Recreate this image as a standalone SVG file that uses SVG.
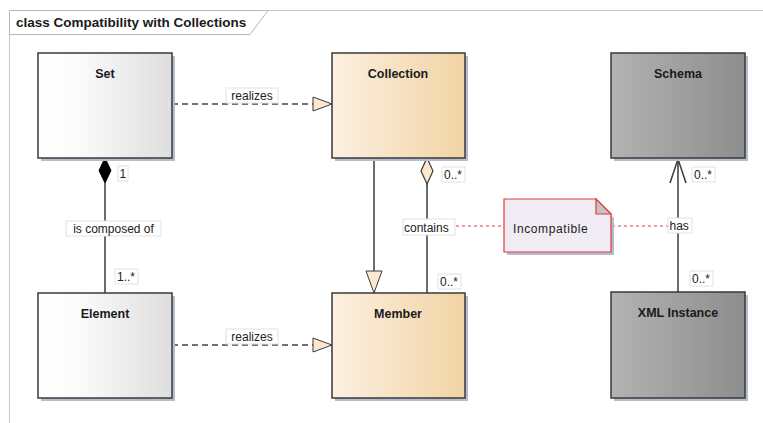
<svg xmlns="http://www.w3.org/2000/svg" width="763" height="423" viewBox="0 0 763 423">
<defs>
<linearGradient id="gW" x1="0" y1="0" x2="1" y2="0"><stop offset="0" stop-color="#ffffff"/><stop offset="0.3" stop-color="#fbfbfb"/><stop offset="1" stop-color="#dedede"/></linearGradient>
<linearGradient id="gO" x1="0" y1="0" x2="1" y2="0"><stop offset="0" stop-color="#fcf0e1"/><stop offset="1" stop-color="#f2d3a4"/></linearGradient>
<linearGradient id="gG" x1="0" y1="0" x2="1" y2="0"><stop offset="0" stop-color="#b3b3b3"/><stop offset="1" stop-color="#8d8d8d"/></linearGradient>
<style>
.t{font-family:"Liberation Sans",Arial,sans-serif;font-size:12.5px;font-weight:bold;fill:#1a1a1a;text-anchor:middle}
.l{font-family:"Liberation Sans",Arial,sans-serif;font-size:12px;fill:#222}
.lb{fill:#fff;stroke:#e2e2e2;stroke-width:1}
.box{stroke:#3a3a3a;stroke-width:1.5}
.sh{fill:#b4bccf}
.ln{stroke:#3a3a3a;stroke-width:1.5;fill:none}
.dash{stroke:#444;stroke-width:1.5;fill:none;stroke-dasharray:6,4}
.red{stroke:#e03a3a;stroke-width:1;fill:none;stroke-dasharray:3,3}
</style>
</defs>
<rect width="763" height="423" fill="#fff"/>
<g id="frame">
<path d="M9.5,423 V10.5 H763" fill="none" stroke="#c8c8c8"/>
<path d="M9.5,10.5 H268 L250,34.5 H9.5 Z" fill="#fff" stroke="#b8b8b8"/>
<text x="16" y="27" style="font-family:'Liberation Sans',Arial,sans-serif;font-size:13.5px;font-weight:bold;fill:#1a1a1a">class Compatibility with Collections</text>
</g>
<g id="connectors">
<line class="dash" x1="172" y1="104" x2="313" y2="104"/>
<path d="M313,97 L332,104 L313,111 Z" fill="#fbe8cf" stroke="#3a3a3a" stroke-width="1"/>
<rect class="lb" x="226" y="88" width="52" height="15"/><text class="l" x="252" y="99.5" text-anchor="middle">realizes</text>
<line class="dash" x1="172" y1="345" x2="313" y2="345"/>
<path d="M313,338 L332,345 L313,352 Z" fill="#fbe8cf" stroke="#3a3a3a" stroke-width="1"/>
<rect class="lb" x="226" y="329" width="52" height="15"/><text class="l" x="252" y="340.5" text-anchor="middle">realizes</text>
<line class="ln" x1="105" y1="183" x2="105" y2="293"/>
<path d="M105,158 L111,170.5 L105,183 L99,170.5 Z" fill="#000" stroke="#000"/>
<rect class="lb" x="118" y="166" width="10" height="15"/><text class="l" x="119.5" y="177.5">1</text>
<rect class="lb" x="66" y="221" width="95" height="15"/><text class="l" x="113.5" y="232.5" text-anchor="middle">is composed of</text>
<rect class="lb" x="115" y="269" width="23" height="15"/><text class="l" x="117" y="280.5">1..*</text>
<line class="ln" x1="374" y1="158" x2="374" y2="271"/>
<path d="M366,271 L382,271 L374,293 Z" fill="#fbe8cf" stroke="#3a3a3a" stroke-width="1"/>
<line class="ln" x1="427" y1="184" x2="427" y2="293"/>
<path d="M427,158 L433,171 L427,184 L421,171 Z" fill="#fbe8cf" stroke="#3a3a3a" stroke-width="1.2"/>
<rect class="lb" x="442" y="167" width="23" height="15"/><text class="l" x="444" y="178.5">0..*</text>
<rect class="lb" x="403" y="219" width="52" height="16"/><text class="l" x="404" y="231.5">contains</text>
<rect class="lb" x="438" y="274" width="23" height="15"/><text class="l" x="440" y="285.5">0..*</text>
<line class="red" x1="456" y1="226" x2="504" y2="226"/>
<line class="red" x1="612" y1="226" x2="668" y2="226"/>
<line class="ln" x1="678" y1="159" x2="678" y2="292"/>
<path d="M670,183 L678,159 L686,183" class="ln"/>
<rect class="lb" x="692" y="167" width="23" height="15"/><text class="l" x="694" y="178.5">0..*</text>
<rect class="lb" x="668" y="218" width="24" height="15"/><text class="l" x="669.5" y="229.5">has</text>
<rect class="lb" x="690" y="271" width="23" height="15"/><text class="l" x="692" y="282.5">0..*</text>
</g>
<g id="Set"><rect class="sh" x="41" y="56" width="134" height="105"/><rect class="box" x="38" y="53" width="134" height="105" fill="url(#gW)"/><text class="t" x="105" y="78">Set</text></g>
<g id="Collection"><rect class="sh" x="335" y="56" width="133" height="105"/><rect class="box" x="332" y="53" width="133" height="105" fill="url(#gO)"/><text class="t" x="398" y="78">Collection</text></g>
<g id="Schema"><rect class="sh" x="614" y="56" width="134" height="105"/><rect class="box" x="611" y="53" width="134" height="105" fill="url(#gG)"/><text class="t" x="678" y="78">Schema</text></g>
<g id="Element"><rect class="sh" x="41" y="296" width="134" height="105"/><rect class="box" x="38" y="293" width="134" height="105" fill="url(#gW)"/><text class="t" x="105" y="318">Element</text></g>
<g id="Member"><rect class="sh" x="335" y="296" width="133" height="105"/><rect class="box" x="332" y="293" width="133" height="105" fill="url(#gO)"/><text class="t" x="398" y="318">Member</text></g>
<g id="XMLInstance"><rect class="sh" x="614" y="295" width="134" height="106"/><rect class="box" x="611" y="292" width="134" height="106" fill="url(#gG)"/><text class="t" x="678" y="317">XML Instance</text></g>
<g id="Incompatible">
<path d="M507,202 H598 L614,218 V255 H507 Z" fill="#b4bccf"/>
<path d="M504,199 H596 L611,214 V252 H504 Z" fill="#f1ebf3" stroke="#e03a3a" stroke-width="1.2"/>
<path d="M596,199 V214 H611 Z" fill="#c4c4c4" stroke="#e03a3a" stroke-width="1.2"/>
<text class="l" x="513" y="233" style="letter-spacing:0.6px">Incompatible</text>
</g>
</svg>
